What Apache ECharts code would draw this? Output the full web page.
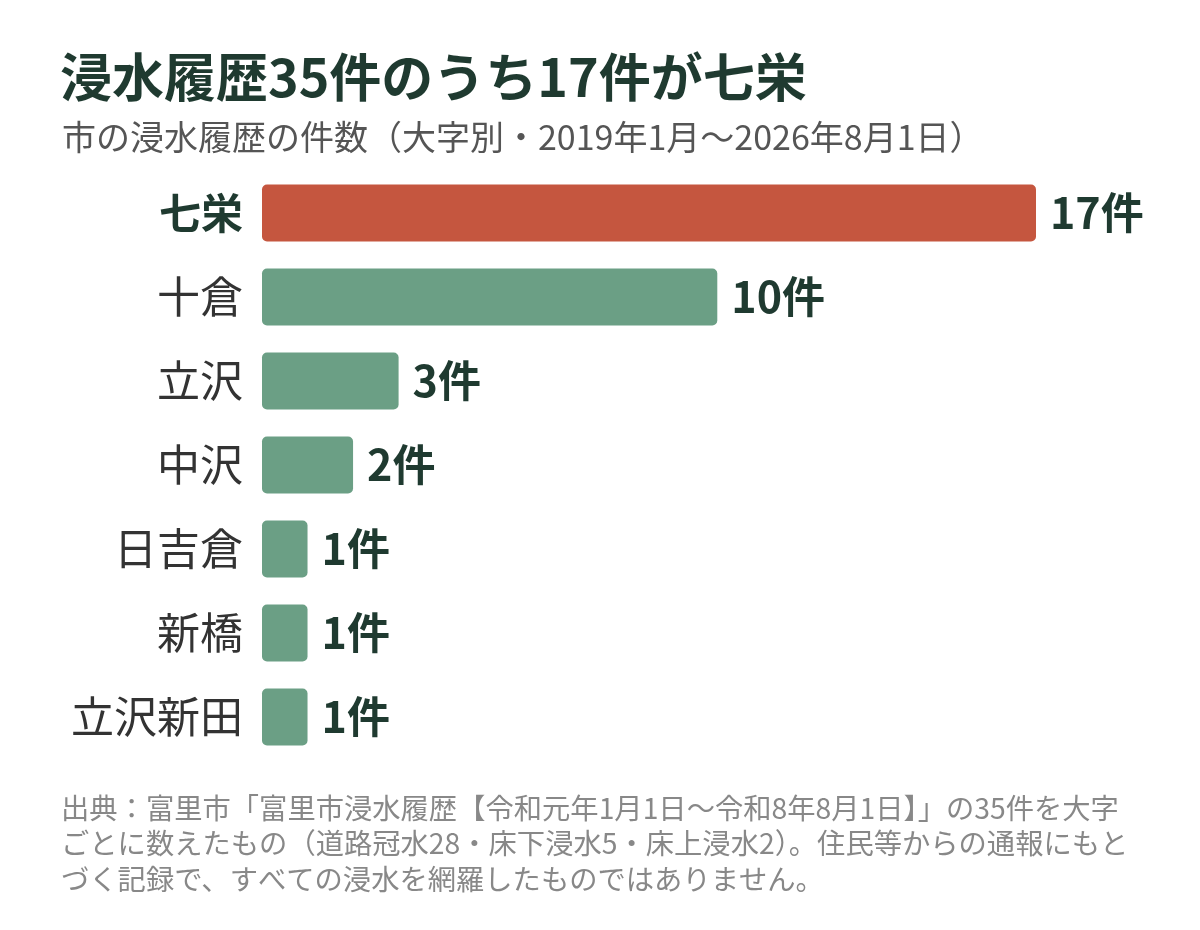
<!DOCTYPE html>
<html>
<head>
<meta charset="utf-8">
<script src="https://cdn.jsdelivr.net/npm/echarts@6/dist/echarts.min.js"></script>
<style>
  html, body { margin: 0; padding: 0; background: #fff; }
  #main { width: 1200px; height: 930px; }
</style>
</head>
<body>
<div id="main"></div>
<script>
var areas = ['七栄', '十倉', '立沢', '中沢', '日吉倉', '新橋', '立沢新田'];
var counts = [17, 10, 3, 2, 1, 1, 1];
var highlight = '七栄';

var titleText = '浸水履歴35件のうち17件が七栄';
var subText = '市の浸水履歴の件数（大字別・2019年1月～2026年8月1日）';
var noteText = '出典：富里市「富里市浸水履歴【令和元年1月1日～令和8年8月1日】」の35件を大字\n' +
    'ごとに数えたもの（道路冠水28・床下浸水5・床上浸水2）。住民等からの通報にもと\n' +
    'づく記録で、すべての浸水を網羅したものではありません。';

var font = '"Noto Sans CJK JP", "Noto Sans", sans-serif';
var dark = '#1f3a30';

var barData = [];
for (var i = 0; i < areas.length; i++) {
    barData.push({
        value: counts[i],
        itemStyle: { color: areas[i] == highlight ? '#c5563f' : '#6b9f85' }
    });
}

var myChart = echarts.init(document.getElementById('main'));

option = {
    backgroundColor: '#fff',
    title: [{
        text: titleText,
        left: 55,
        top: 46,
        textStyle: { fontFamily: font, fontSize: 52, fontWeight: 'bold', color: dark }
    }, {
        text: subText,
        left: 57,
        top: 115,
        textStyle: { fontFamily: font, fontSize: 34, fontWeight: 'normal', color: '#555' }
    }],
    graphic: [{
        type: 'text',
        left: 61,
        top: 790,
        style: {
            text: noteText,
            font: '28.3px ' + font,
            fill: '#888',
            lineHeight: 35.5
        }
    }],
    grid: { left: 262, right: 164, top: 171, height: 588 },
    xAxis: {
        type: 'value',
        min: 0,
        max: 17,
        show: false
    },
    yAxis: {
        type: 'category',
        data: areas,
        inverse: true,
        axisLine: { show: false },
        axisTick: { show: false },
        axisLabel: {
            margin: 19,
            fontFamily: font,
            fontSize: 43,
            color: '#333',
            formatter: function (v) {
                return v == highlight ? '{b|' + v + '}' : v;
            },
            rich: {
                b: { fontFamily: font, fontSize: 42, fontWeight: 'bold', color: dark }
            }
        }
    },
    series: [{
        type: 'bar',
        data: barData,
        barWidth: 57,
        itemStyle: { borderRadius: 5 },
        label: {
            show: true,
            position: 'right',
            distance: 14,
            formatter: '{c}件',
            fontFamily: font,
            fontSize: 43,
            fontWeight: 'bold',
            color: dark
        }
    }]
};

myChart.setOption(option);
</script>
</body>
</html>
